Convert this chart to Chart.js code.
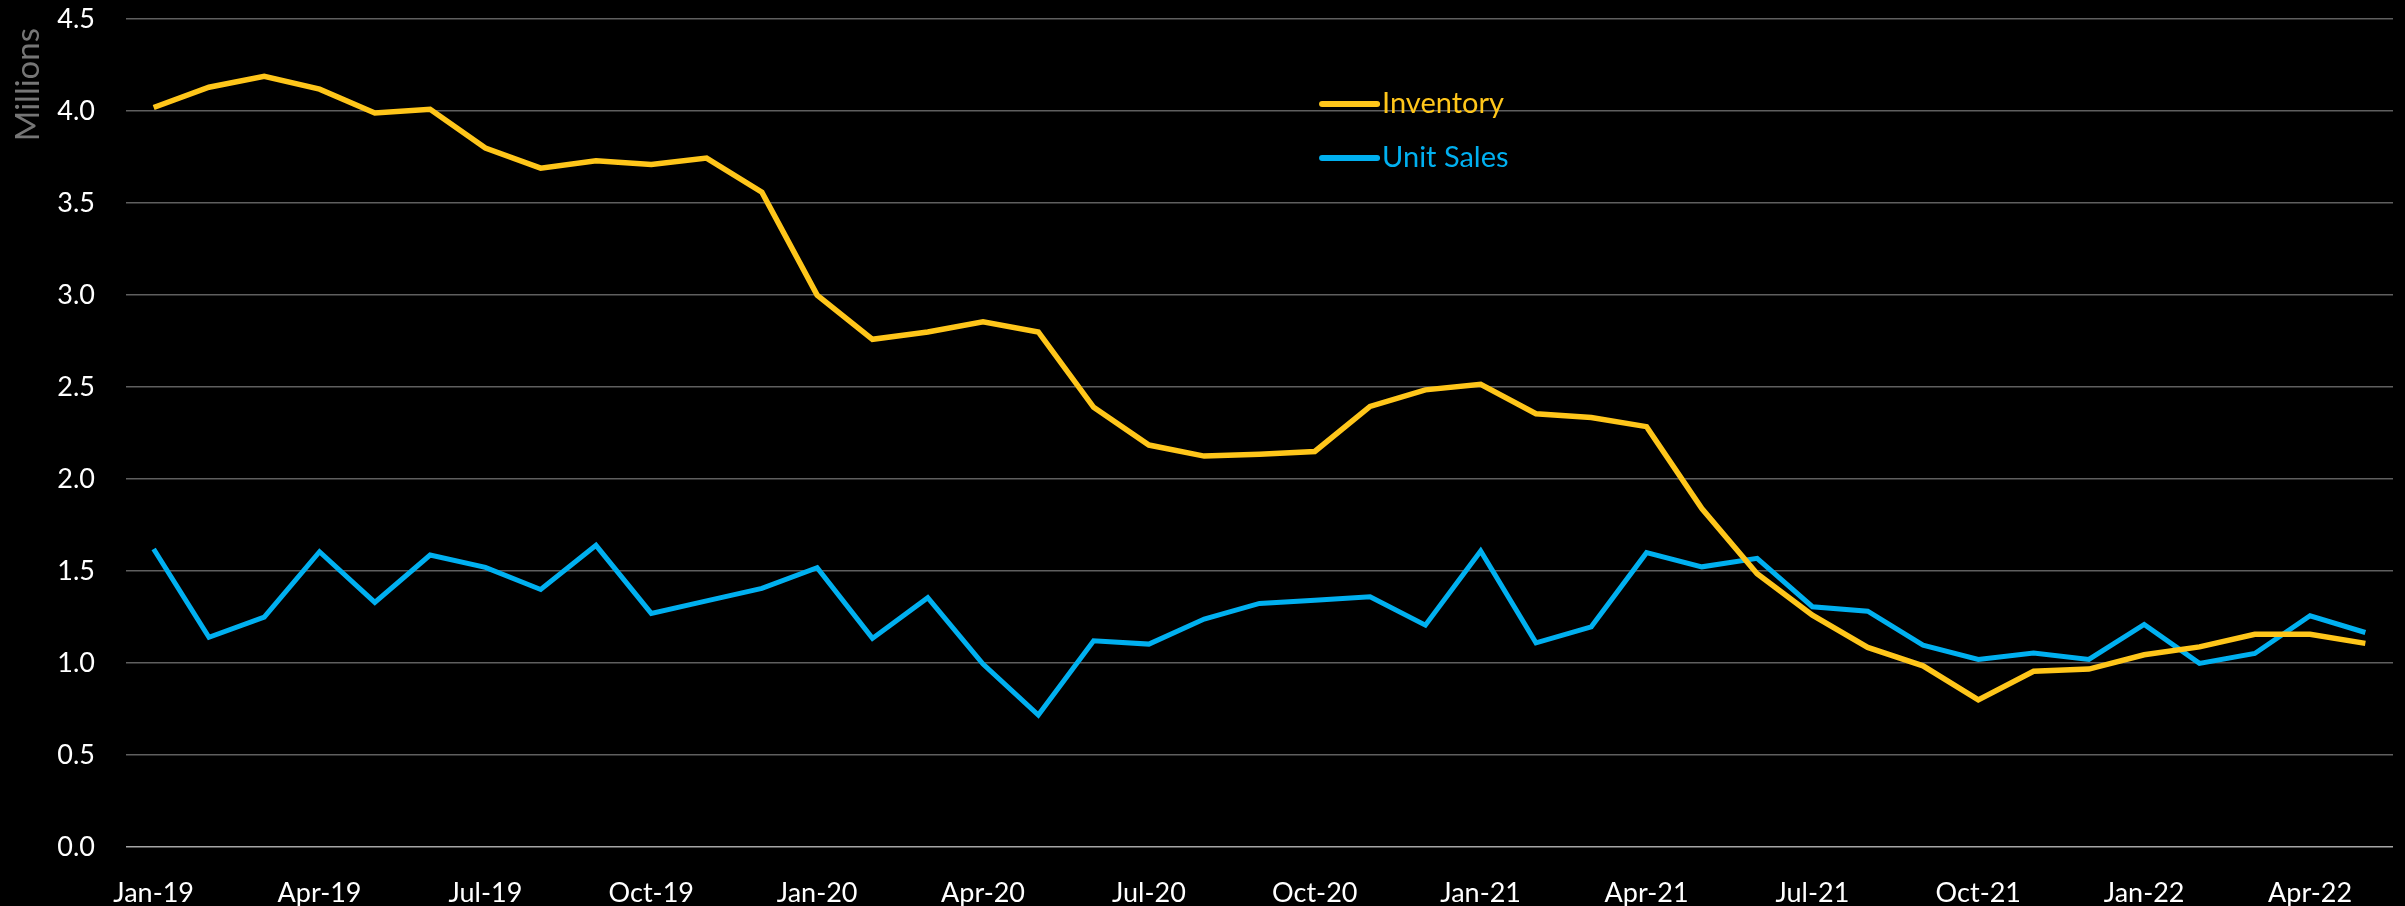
<!DOCTYPE html>
<html>
<head>
<meta charset="utf-8">
<title>Inventory vs Unit Sales</title>
<script src="https://cdn.jsdelivr.net/npm/chart.js@4"></script>
<style>
  html, body { margin: 0; padding: 0; background: #000; }
  canvas { display: block; }
</style>
</head>
<body>
<canvas id="linechart" width="2405" height="906"></canvas>
<script>
let months = ['Jan-19','Feb-19','Mar-19','Apr-19','May-19','Jun-19','Jul-19','Aug-19','Sep-19','Oct-19','Nov-19','Dec-19',
              'Jan-20','Feb-20','Mar-20','Apr-20','May-20','Jun-20','Jul-20','Aug-20','Sep-20','Oct-20','Nov-20','Dec-20',
              'Jan-21','Feb-21','Mar-21','Apr-21','May-21','Jun-21','Jul-21','Aug-21','Sep-21','Oct-21','Nov-21','Dec-21',
              'Jan-22','Feb-22','Mar-22','Apr-22','May-22'];

// millions of units
let inventory = [4.02, 4.13, 4.19, 4.12, 3.99, 4.01, 3.80, 3.69, 3.73, 3.71, 3.745, 3.56,
                 3.00, 2.76, 2.80, 2.855, 2.80, 2.39, 2.185, 2.125, 2.135, 2.15, 2.395, 2.485,
                 2.515, 2.355, 2.335, 2.285, 1.84, 1.485, 1.26, 1.085, 0.985, 0.80, 0.955, 0.967,
                 1.045, 1.088, 1.156, 1.156, 1.107];

let unitSales = [1.62, 1.14, 1.25, 1.605, 1.33, 1.587, 1.52, 1.40, 1.64, 1.27, 1.338, 1.406,
                 1.518, 1.134, 1.355, 0.994, 0.717, 1.121, 1.103, 1.239, 1.324, 1.342, 1.36, 1.206,
                 1.609, 1.11, 1.197, 1.60, 1.523, 1.569, 1.306, 1.282, 1.097, 1.02, 1.055, 1.02,
                 1.21, 0.998, 1.052, 1.257, 1.166];

let seriesNames = ['Inventory', 'Unit Sales'];
let seriesColors = ['#FFC61A', '#00B0F0'];
let axisTitle = 'Millions';

let fontName = 'Lato, "Noto Sans", sans-serif';

// legend inside the plot (line + coloured text) and the rotated axis title at top left
let extras = {
    id : 'extras',
    afterDraw : function (chart) {
        let c = chart.ctx;
        let area = chart.chartArea;
        let x = area.left + 0.5276 * (area.right - area.left);
        let y = 104;
        c.save();
        c.font = '29px ' + fontName;
        c.textBaseline = 'middle';
        c.lineCap = 'round';
        c.lineWidth = 6;
        chart.data.datasets.forEach(function (ds) {
            c.strokeStyle = ds.borderColor;
            c.beginPath();
            c.moveTo(x, y);
            c.lineTo(x + 55, y);
            c.stroke();
            c.fillStyle = ds.borderColor;
            c.fillText(ds.label, x + 60, y);
            y += 54;
        });

        c.translate(28, 28);
        c.rotate(-Math.PI / 2);
        c.font = '33px ' + fontName;
        c.fillStyle = '#767676';
        c.textAlign = 'right';
        c.textBaseline = 'middle';
        c.fillText(axisTitle, 0, 0);
        c.restore();
    }
};

let chart = document.getElementById('linechart').getContext('2d');
let mychart = new Chart(chart , {
    type : 'line' ,
    data : {
        labels : months,
        datasets : [{
            label : seriesNames[0],
            data : inventory,
            borderColor : seriesColors[0],
            borderWidth : 5.5,
            pointRadius : 0,
            tension : 0
        }, {
            label : seriesNames[1],
            data : unitSales,
            borderColor : seriesColors[1],
            borderWidth : 5,
            pointRadius : 0,
            tension : 0
        }]
    },
    options : {
        responsive : false,
        animation : false,
        layout : {
            padding : { top : 0, right : 12, bottom : 0, left : 0 }
        },
        plugins : {
            legend : { display : false },
            tooltip : { enabled : false }
        },
        scales : {
            x : {
                offset : true,
                afterFit : function (scale) { scale.height = 59; },
                grid : { display : false },
                border : { display : false },
                ticks : {
                    color : '#ffffff',
                    font : { family : fontName, size : 27 },
                    autoSkip : false,
                    maxRotation : 0,
                    padding : 22,
                    callback : function (val, i) {
                        return i % 3 === 0 ? months[i] : '';
                    }
                }
            },
            y : {
                min : 0,
                max : 4.5,
                afterFit : function (scale) { scale.width = 126; },
                grid : {
                    drawTicks : true,
                    tickLength : 28,
                    tickColor : 'rgba(0,0,0,0)',
                    lineWidth : 1.5,
                    color : function (ctx) {
                        return ctx.tick && ctx.tick.value === 0 ? '#a6a6a6' : '#5f5f5f';
                    }
                },
                border : { display : false },
                ticks : {
                    stepSize : 0.5,
                    color : '#ffffff',
                    font : { family : fontName, size : 27 },
                    padding : 3,
                    callback : function (v) { return v.toFixed(1); }
                }
            }
        }
    },
    plugins : [extras]
});
</script>
</body>
</html>
